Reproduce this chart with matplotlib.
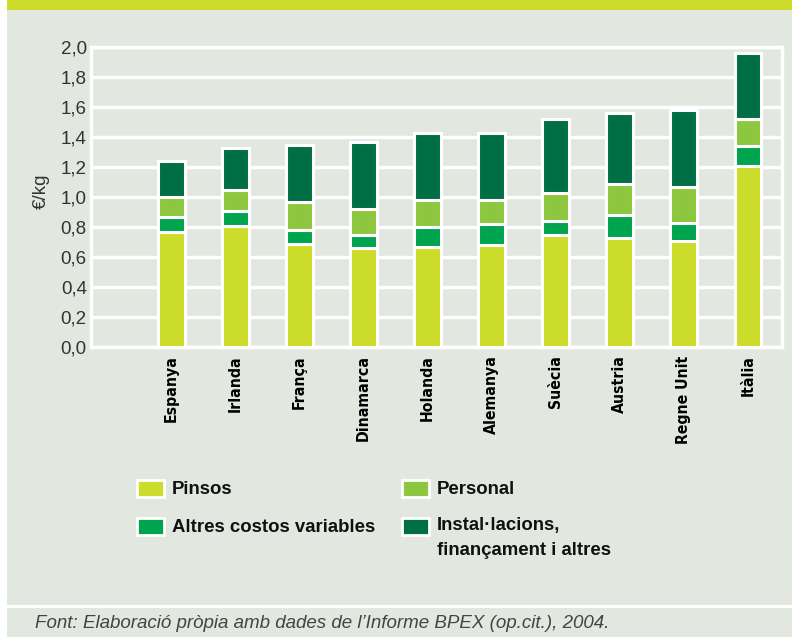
import matplotlib
matplotlib.use("Agg")
import matplotlib.pyplot as plt
from matplotlib.patches import Rectangle
import numpy as np

countries = ["Espanya", "Irlanda", "França", "Dinamarca", "Holanda",
             "Alemanya", "Suècia", "Austria", "Regne Unit", "Itàlia"]
pinsos   = [0.77, 0.81, 0.69, 0.66, 0.67, 0.68, 0.75, 0.73, 0.71, 1.21]
altres   = [0.10, 0.10, 0.09, 0.09, 0.13, 0.14, 0.09, 0.15, 0.12, 0.13]
personal = [0.13, 0.14, 0.19, 0.17, 0.18, 0.16, 0.19, 0.21, 0.24, 0.18]
instal   = [0.24, 0.28, 0.38, 0.45, 0.45, 0.45, 0.49, 0.47, 0.51, 0.44]
series_names = ["Pinsos", "Altres costos variables", "Personal",
                "Instal·lacions,\nfinançament i altres"]
yticks = [0.0, 0.2, 0.4, 0.6, 0.8, 1.0, 1.2, 1.4, 1.6, 1.8, 2.0]

colors = ["#CCDC2A", "#00A34E", "#8DC63F", "#006F45"]
bg = "#E2E7E0"
W, H = 792, 637
fig = plt.figure(figsize=(W / 100, H / 100), dpi=100)
fig.patch.set_facecolor("white")

def fx(px): return px / W
def fy(py): return 1 - py / H

# panel background
fig.patches.append(Rectangle((fx(7), 0), 1 - fx(7), fy(10), transform=fig.transFigure,
                             facecolor=bg, edgecolor="none", zorder=-5))
fig.patches.append(Rectangle((fx(7), fy(10)), 1 - fx(7), 1 - fy(10), transform=fig.transFigure,
                             facecolor="#CCDC2A", edgecolor="none", zorder=-5))
fig.patches.append(Rectangle((fx(7), fy(608)), 1 - fx(7), fy(605) - fy(608), transform=fig.transFigure,
                             facecolor="white", edgecolor="none", zorder=-4))

ax = fig.add_axes([fx(91), fy(347), fx(782) - fx(91), fy(47) - fy(347)])
ax.set_zorder(5)
ax.set_facecolor(bg)
for s in ax.spines.values():
    s.set_color("white")
    s.set_linewidth(2.5)

x = np.arange(len(countries))
data = [pinsos, altres, personal, instal]
bottom = np.zeros(len(countries))
for vals, c, name in zip(data, colors, series_names):
    ax.bar(x, vals, 0.42, bottom=bottom, color=c, edgecolor="white", linewidth=2.2,
           label=name, zorder=3)
    bottom += np.array(vals)

ax.set_ylim(0, 2.0)
ax.set_xlim(-1.25, 9.53)
ax.set_yticks(yticks)
ax.set_yticklabels([f"{v:.1f}".replace(".", ",") for v in yticks],
                   fontsize=13.5, color="#333333", family=["Liberation Sans", "DejaVu Sans"])
ax.yaxis.grid(True, color="white", linewidth=2.5, zorder=1)
ax.set_axisbelow(True)
ax.tick_params(axis="y", length=0, pad=3)
ax.tick_params(axis="x", length=0, pad=6)
ax.set_xticks(x)
ax.set_xticklabels(countries, rotation=90, fontsize=11.3, fontweight="bold",
                   family=["DejaVu Sans"], fontstretch="condensed", va="top")
ax.set_ylabel("€/kg", fontsize=13.5, color="#333333",
              family=["Liberation Sans", "DejaVu Sans"])
ax.yaxis.set_label_coords(-0.06, 0.52)

# legend (manual)
leg_pos = [(137, 489), (137, 527), (402, 489), (402, 527)]
for (px, py), c, name in zip(leg_pos, colors, series_names):
    fig.patches.append(Rectangle((fx(px), fy(py + 8)), fx(27), 17 / H,
                                 transform=fig.transFigure, facecolor=c,
                                 edgecolor="white", linewidth=2, zorder=2))
    two = "\n" in name
    fig.text(fx(px + 35), fy(py - 10) if two else fy(py), name, fontsize=13.4, fontweight="bold",
             color="#111111", va="top" if two else "center",
             ha="left", family=["Liberation Sans", "DejaVu Sans"],
             linespacing=1.6)

fig.text(fx(35), fy(624), "Font: Elaboració pròpia amb dades de l’Informe BPEX (op.cit.), 2004.",
         fontsize=13.5, style="italic", color="#444444", va="center",
         family=["Liberation Sans", "DejaVu Sans"])

fig.savefig("out.png", dpi=100, facecolor=fig.get_facecolor())
